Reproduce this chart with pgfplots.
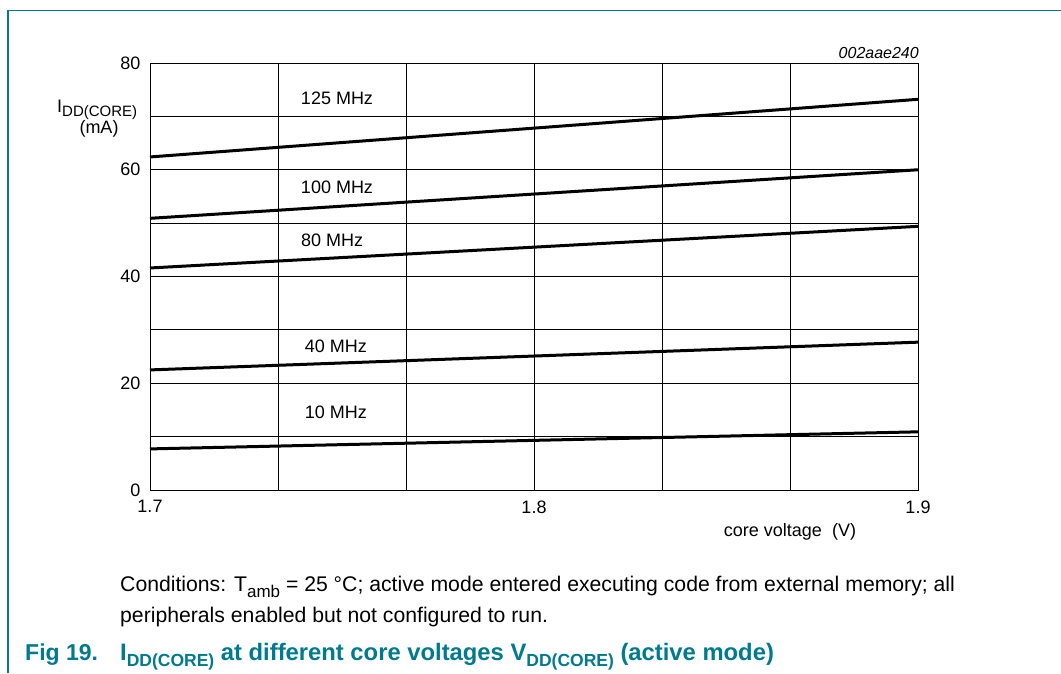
\documentclass[border=0pt]{standalone}
\usepackage{pgfplots}
\pgfplotsset{compat=1.18}
\usepackage{fontspec}
\setmainfont{Liberation Sans}
\definecolor{nxpteal}{RGB}{0,122,143}
% subscript at a given size, dropped a quarter em below the baseline
\newcommand{\sub}[2]{\raisebox{-0.26em}{\fontsize{#1}{#1}\selectfont #2}}
\begin{document}
\begin{tikzpicture}[x=1pt,y=1pt]
\path[use as bounding box] (0,0) rectangle (1061,-673);
% frame
\draw[nxpteal, line width=1.5pt] (8,-673) -- (8,-10.5) -- (1061,-10.5);
\begin{axis}[
    at={(150pt,-490pt)}, anchor=south west,
    scale only axis, width=768pt, height=427pt,
    xmin=1.7, xmax=1.9, ymin=0, ymax=80,
    xtick={1.7,1.8,1.9}, ytick={0,20,40,60,80},
    xticklabels={1.7,1.8,1.9},
    minor x tick num=2, minor y tick num=1,
    grid=both,
    major grid style={black, line width=0.8pt},
    minor grid style={black, line width=0.8pt},
    axis line style={black, line width=0.9pt},
    major tick length=0pt, minor tick length=0pt,
    /pgf/number format/assume math mode=true,
    ticklabel style={font=\fontsize{18}{21}\selectfont},
    xticklabel style={yshift=-7pt},
    yticklabel style={xshift=-6pt},
    clip=false,
]
\addplot[black, line width=3pt] coordinates {(1.7,62.4) (1.9,73.2)};
\addplot[black, line width=3pt] coordinates {(1.7,50.9) (1.9,60.0)};
\addplot[black, line width=3pt] coordinates {(1.7,41.6) (1.9,49.4)};
\addplot[black, line width=3pt] coordinates {(1.7,22.5) (1.9,27.7)};
\addplot[black, line width=3pt] coordinates {(1.7,7.7) (1.9,10.9)};
\begin{scope}[every node/.style={font=\fontsize{18}{21}\selectfont}]
\node at (axis cs:1.7487,73.3) {125 MHz};
\node at (axis cs:1.7487,56.8) {100 MHz};
\node at (axis cs:1.7474,46.8) {80 MHz};
\node at (axis cs:1.7484,27.0) {40 MHz};
\node at (axis cs:1.7484,14.6) {10 MHz};
\end{scope}
\end{axis}
% axis titles
\node[anchor=base west, inner sep=0, font=\fontsize{18}{21}\selectfont] at (57,-112) {I\sub{15}{DD(CORE)}};
\node[anchor=base, inner sep=0, font=\fontsize{18}{21}\selectfont] at (99,-133) {(mA)};
\node[anchor=base, inner sep=0, font=\fontsize{18}{21}\selectfont] at (790,-536) {core voltage\ \ (V)};
\node[anchor=base east, inner sep=0, font=\fontsize{16}{19}\itshape] at (919,-58) {002aae240};
% caption
\node[anchor=base west, inner sep=0, font=\fontsize{21.2}{25}\selectfont] at (120,-591.5) {Conditions: T\sub{17}{amb} = 25 °C; active mode entered executing code from external memory; all};
\node[anchor=base west, inner sep=0, font=\fontsize{21.2}{25}\selectfont] at (120,-622) {peripherals enabled but not configured to run.};
\node[anchor=base west, inner sep=0, text=nxpteal, font=\fontsize{23}{27}\bfseries] at (25,-660) {Fig 19.};
\node[anchor=base west, inner sep=0, text=nxpteal, font=\fontsize{23.8}{28}\bfseries] at (120,-660) {I\sub{17.5}{DD(CORE)} at different core voltages V\sub{17.5}{DD(CORE)} (active mode)};
\end{tikzpicture}
\end{document}
